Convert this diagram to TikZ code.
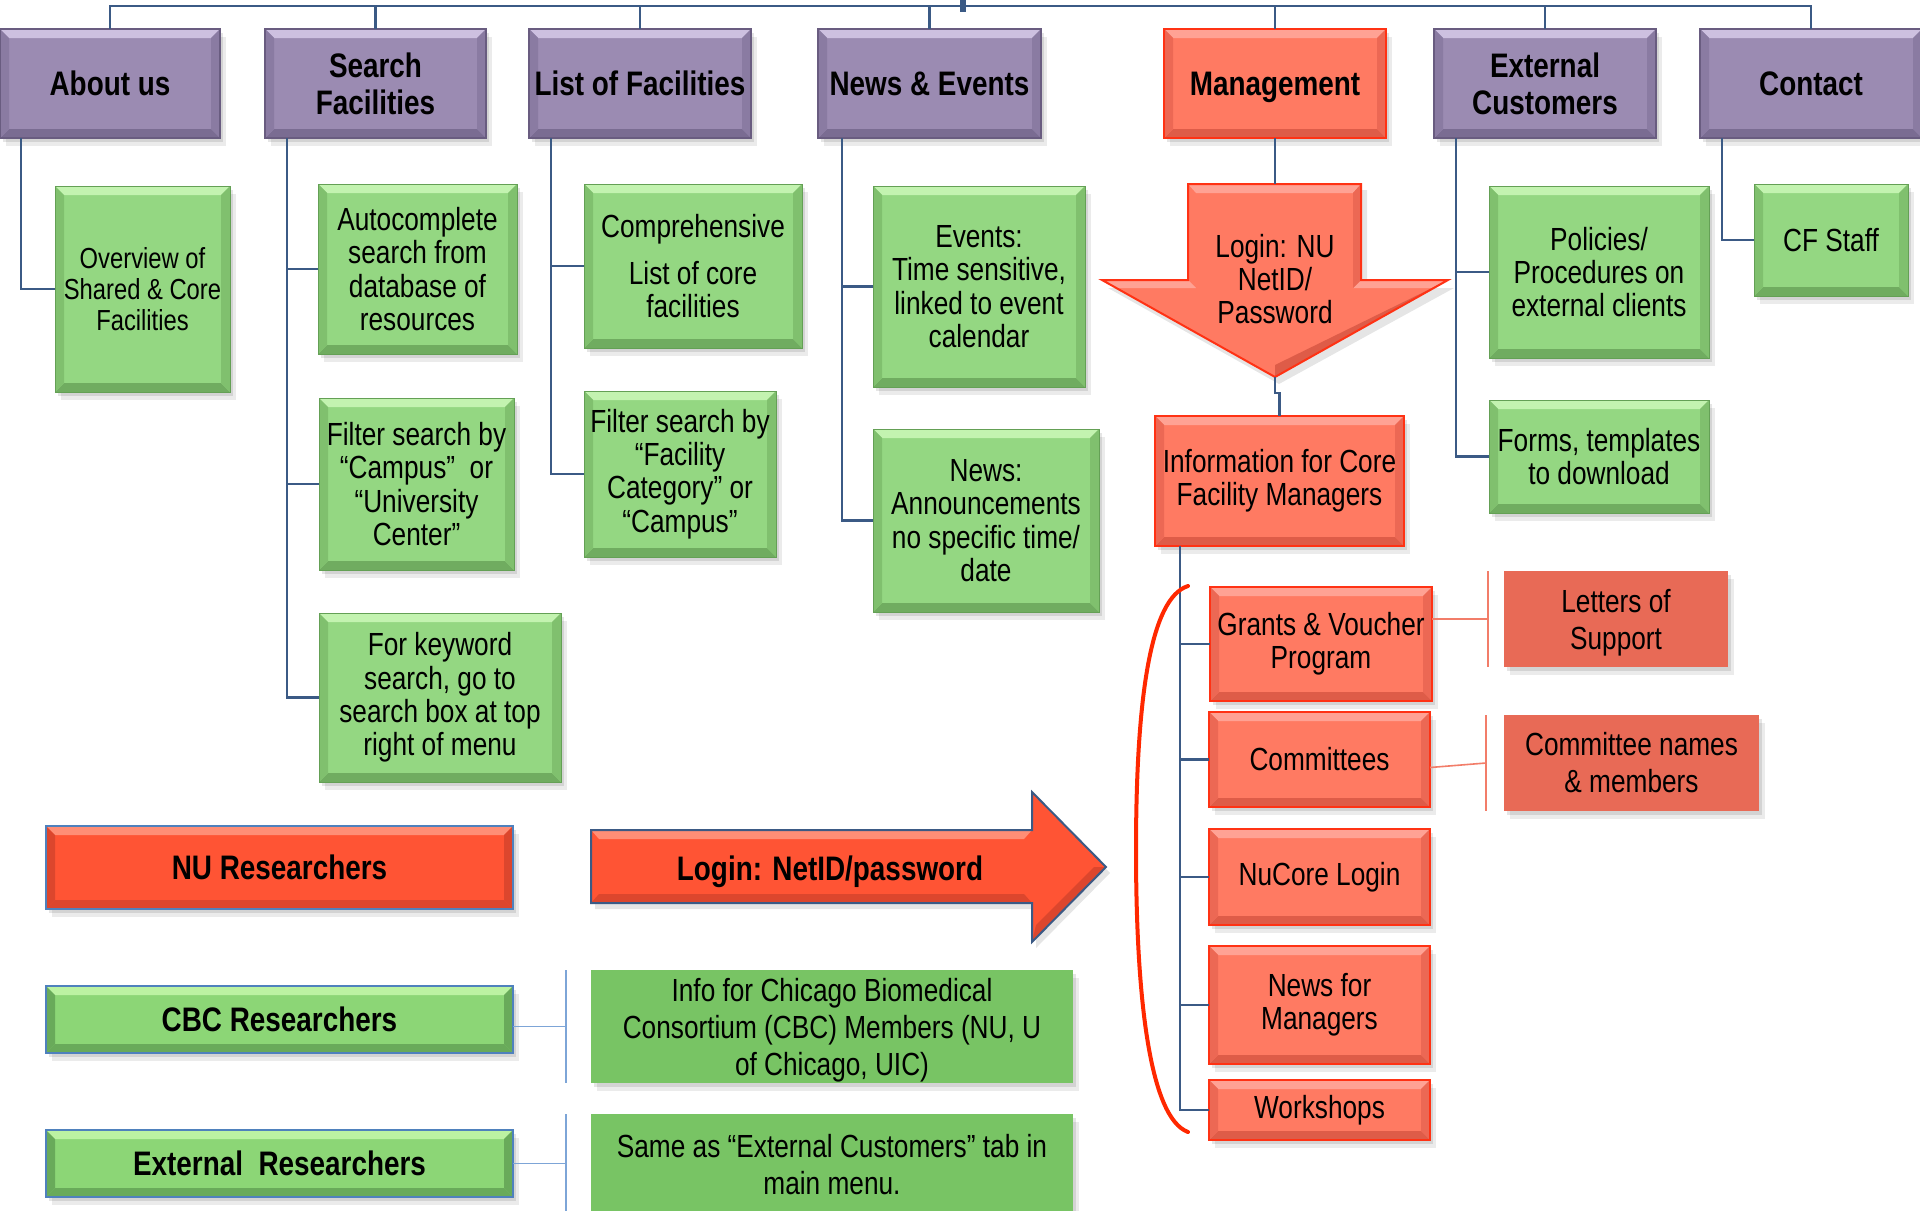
\documentclass[tikz,border=0pt]{standalone}
\usepackage{fontspec}
\setmainfont{Liberation Sans}[FakeStretch=0.82]
\usetikzlibrary{backgrounds}
\definecolor{purp}{RGB}{155,139,178}
\definecolor{purpT}{RGB}{205,192,224}
\definecolor{purpB}{RGB}{122,108,146}
\definecolor{purpS}{RGB}{138,123,162}
\definecolor{purpD}{RGB}{105,92,128}
\definecolor{grn}{RGB}{148,215,130}
\definecolor{grnT}{RGB}{195,243,176}
\definecolor{grnB}{RGB}{112,172,96}
\definecolor{grnS}{RGB}{128,192,110}
\definecolor{grnD}{RGB}{100,160,85}
\definecolor{sal}{RGB}{255,122,98}
\definecolor{salT}{RGB}{255,162,148}
\definecolor{salB}{RGB}{222,92,72}
\definecolor{salS}{RGB}{236,104,84}
\definecolor{salD}{RGB}{255,50,20}
\definecolor{nured}{RGB}{255,84,52}
\definecolor{nuredT}{RGB}{255,142,118}
\definecolor{nuredB}{RGB}{220,70,45}
\definecolor{flatsal}{RGB}{232,106,86}
\definecolor{flatgrn}{RGB}{120,196,100}
\definecolor{cbcgrn}{RGB}{140,214,118}
\definecolor{cbcT}{RGB}{188,242,162}
\definecolor{cbcB}{RGB}{105,170,90}
\definecolor{conn}{RGB}{59,90,133}
\definecolor{bluebord}{RGB}{79,129,189}
\definecolor{lblue}{RGB}{125,165,215}
\definecolor{lred}{RGB}{242,125,105}
\definecolor{curvered}{RGB}{255,40,0}
\tikzset{
  bevel/.style n args={3}{path picture={
    \fill[#1] (path picture bounding box.north west) -- (path picture bounding box.north east)
      -- ([shift={(-4.5pt,-4.5pt)}]path picture bounding box.north east)
      -- ([shift={(4.5pt,-4.5pt)}]path picture bounding box.north west) -- cycle;
    \fill[#2] (path picture bounding box.south west) -- (path picture bounding box.south east)
      -- ([shift={(-4.5pt,4.5pt)}]path picture bounding box.south east)
      -- ([shift={(4.5pt,4.5pt)}]path picture bounding box.south west) -- cycle;
    \fill[#3] (path picture bounding box.north west) -- ([shift={(4.5pt,-4.5pt)}]path picture bounding box.north west)
      -- ([shift={(4.5pt,4.5pt)}]path picture bounding box.south west) -- (path picture bounding box.south west) -- cycle;
    \fill[#3] (path picture bounding box.north east) -- ([shift={(-4.5pt,-4.5pt)}]path picture bounding box.north east)
      -- ([shift={(-4.5pt,4.5pt)}]path picture bounding box.south east) -- (path picture bounding box.south east) -- cycle;
  }},
  sz/.style 2 args={minimum width=#1*0.5pt, minimum height=#2*0.5pt},
  base/.style={rectangle, inner sep=2pt, outer sep=0pt, align=center, text=black,
    font=\fontsize{16}{16.7}\selectfont},
  hdrfont/.style={font=\bfseries\fontsize{17}{18.5}\selectfont},
  hdr/.style={base, hdrfont, fill=purp, draw=purpD, line width=0.6pt, bevel={purpT}{purpB}{purpS}},
  grnbox/.style={base, fill=grn, draw=grnD, line width=0.5pt, bevel={grnT}{grnB}{grnS}},
  salbox/.style={base, fill=sal, draw=salD, line width=0.8pt, bevel={salT}{salB}{salS}},
  flatbox/.style={base, fill=#1, draw=none, font=\fontsize{16}{18.5}\selectfont},
  resbox/.style={base, hdrfont, draw=bluebord, line width=1.2pt},
  connl/.style={draw=conn, line width=1.1pt},
  lredline/.style={draw=lred, line width=0.8pt},
  lblueline/.style={draw=lblue, line width=0.8pt},
}
\begin{document}
\begin{tikzpicture}[x=0.5pt,y=-0.5pt]
\useasboundingbox (0,0) rectangle (1920,1210);

% header row
\node[hdr, sz={220}{109}] (about) at (110,83.5) {About us};
\node[hdr, sz={221}{109}] (search) at (375.5,83.5) {Search\\Facilities};
\node[hdr, sz={222}{109}] (list) at (640,83.5) {List of Facilities};
\node[hdr, sz={223}{109}] (news) at (929.5,83.5) {News \& Events};
\node[salbox, hdrfont, text depth=0pt, sz={222}{109}] (mgmt) at (1275,83.5) {Management};
\node[hdr, sz={222}{109}] (ext) at (1545,83.5) {External\\Customers};
\node[hdr, sz={222}{109}] (contact) at (1811,83.5) {Contact};

% green children
\node[grnbox, sz={175}{206}, font=\fontsize{14.5}{15.5}\selectfont] (overview) at (142.5,289) {Overview of\\Shared \& Core\\Facilities};
\node[grnbox, sz={199}{170}] (auto) at (417.5,269) {Autocomplete\\search from\\database of\\resources};
\node[grnbox, sz={195}{172}] (filtc) at (416.5,484) {Filter search by\\“Campus”\ \ or\\“University\\Center”};
\node[grnbox, sz={242}{169}] (kw) at (440,697.5) {For keyword\\search, go to\\search box at top\\right of menu};
\node[grnbox, sz={218}{164}] (compr) at (693,266) {Comprehensive\\[7pt]List of core\\facilities};
\node[grnbox, sz={192}{166}] (filtf) at (680,474) {Filter search by\\“Facility\\Category” or\\“Campus”};
\node[grnbox, sz={212}{201}] (events) at (979,286.5) {Events:\\Time sensitive,\\linked to event\\calendar};
\node[grnbox, sz={226}{183}] (newsb) at (986,520.5) {News:\\Announcements\\no specific time/\\date};
\node[grnbox, sz={220}{172}] (pol) at (1599,272) {Policies/\\Procedures on\\external clients};
\node[grnbox, sz={220}{113}] (forms) at (1599,456.5) {Forms, templates\\to download};
\node[grnbox, sz={154}{112}] (cf) at (1831,240) {CF Staff};

% management down arrow
\coordinate (dtop) at (1275,184);
\coordinate (dtip) at (1275,377);
\fill[sal] (1188,184) -- (1361,184) -- (1361,280) -- (1448,280) -- (dtip) -- (1102,280) -- (1188,280) -- cycle;
\fill[salT] (1188,184) -- (1361,184) -- (1353,193) -- (1196,193) -- cycle;
\fill[salT] (1102,280) -- (1188,280) -- (1196,288) -- (1118,288) -- cycle;
\fill[salT] (1361,280) -- (1448,280) -- (1432,288) -- (1353,288) -- cycle;
\fill[salB] (1448,280) -- (dtip) -- (1275,365) -- (1432,288) -- cycle;
\fill[salS] (1361,184) -- (1361,280) -- (1353,288) -- (1353,193) -- cycle;
\draw[salD, line width=1pt, line join=miter] (1188,184) -- (1361,184) -- (1361,280) -- (1448,280) -- (dtip) -- (1102,280) -- (1188,280) -- cycle;
\node[font=\fontsize{16}{16.7}\selectfont, align=center] (loginnu) at (1275,279) {Login: NU\\NetID/\\Password};

% management children
\node[salbox, sz={249}{130}] (info) at (1279.5,481) {Information for Core\\Facility Managers};
\node[salbox, sz={222}{114}] (grants) at (1321,644) {Grants \& Voucher\\Program};
\node[salbox, sz={221}{95}] (committees) at (1319.5,759.5) {Committees};
\node[salbox, sz={221}{96}] (nucore) at (1319.5,877) {NuCore Login};
\node[salbox, sz={221}{118}] (newsmgr) at (1319.5,1005) {News for\\Managers};
\node[salbox, sz={221}{60}] (workshops) at (1319.5,1110) {Workshops};
\node[flatbox=flatsal, sz={224}{96}, text depth=0pt] (letters) at (1616,619) {Letters of\\Support};
\node[flatbox=flatsal, sz={255}{96}] (cnames) at (1631.5,763) {Committee names\\\& members};

% bottom section
\node[resbox, fill=nured, bevel={nuredT}{nuredB}{nuredB}, sz={467}{83}] (nu) at (279.5,867.5) {NU Researchers};
\node[resbox, fill=cbcgrn, bevel={cbcT}{cbcB}{cbcB}, sz={467}{67}] (cbc) at (279.5,1019.5) {CBC Researchers};
\node[resbox, fill=cbcgrn, bevel={cbcT}{cbcB}{cbcB}, sz={467}{67}] (extr) at (279.5,1163.5) {External\ \ Researchers};
\node[flatbox=flatgrn, sz={482}{113}, text depth=0pt] (chi) at (832,1026.5) {Info for Chicago Biomedical\\Consortium (CBC) Members (NU, U\\of Chicago, UIC)};
\node[flatbox=flatgrn, sz={482}{102}] (same) at (832,1165) {Same as “External Customers” tab in\\main menu.};

% right arrow
\fill[nured] (591,830) -- (1032,830) -- (1032,792) -- (1106,867) -- (1032,942) -- (1032,903) -- (591,903) -- cycle;
\fill[nuredT] (591,830) -- (1032,830) -- (1024,839) -- (599,839) -- cycle;
\fill[nuredB] (591,903) -- (1032,903) -- (1024,894) -- (599,894) -- cycle;
\fill[nuredB] (1106,867) -- (1032,942) -- (1036,925) -- (1094,867) -- cycle;
\draw[conn, line width=1pt, line join=miter] (591,830) -- (1032,830) -- (1032,792) -- (1106,867) -- (1032,942) -- (1032,903) -- (591,903) -- cycle;
\node[hdrfont, text depth=0pt] (loginr) at (830,868) {Login: NetID/password};

% top connectors
\coordinate (root) at (963,0);
\coordinate (bar) at (963,6);
\draw[connl] (about.north) |- (bar);
\draw[connl] (contact.north) |- (bar);
\foreach \n in {search,list,news,mgmt,ext} \draw[connl] (\n.north) -- (\n.north |- bar);
\draw[conn, line width=2.6pt] (root) -- ([yshift=-3pt]bar);

% branch connectors
\draw[connl] ([xshift=10.5pt]about.south west) |- (overview.west);
\foreach \c in {auto,filtc,kw} \draw[connl] ([xshift=11pt]search.south west) |- (\c.west);
\foreach \c in {compr,filtf} \draw[connl] ([xshift=11pt]list.south west) |- (\c.west);
\foreach \c in {events,newsb} \draw[connl] ([xshift=12pt]news.south west) |- (\c.west);
\foreach \c in {pol,forms} \draw[connl] ([xshift=11pt]ext.south west) |- (\c.west);
\draw[connl] ([xshift=11pt]contact.south west) |- (cf.west);
\draw[connl] (mgmt.south) -- (dtop);
\draw[connl] (dtip) -- ++(0,16) -| (info.north);
\foreach \c in {grants,committees,nucore,newsmgr,workshops} \draw[connl] ([xshift=12.5pt]info.south west) |- (\c.west);

% bracket connectors
\draw[lredline] (grants.east |- letters.west) -- ([xshift=-8pt]letters.west);
\draw[lredline] ([xshift=-8pt]letters.north west) -- ([xshift=-8pt]letters.south west);
\draw[lredline] ([yshift=-4pt]committees.east) -- ([xshift=-9pt]cnames.west);
\draw[lredline] ([xshift=-9pt]cnames.north west) -- ([xshift=-9pt]cnames.south west);
\draw[lblueline] (cbc.east |- chi.west) -- ([xshift=-12.5pt]chi.west);
\draw[lblueline] ([xshift=-12.5pt]chi.north west) -- ([xshift=-12.5pt]chi.south west);
\draw[lblueline] (extr.east) -- ([xshift=-12.5pt]same.west |- extr.east);
\draw[lblueline] ([xshift=-12.5pt]same.north west) -- ([xshift=-12.5pt]same.south west);

% red curved bracket
\draw[curvered, line width=2pt, line cap=round] (1188,586) .. controls (1150,598) and (1136,700) .. (1136,850) .. controls (1136,1000) and (1150,1118) .. (1188,1132);

% background and soft shadows
\begin{pgfonlayer}{background}
\fill[white] (0,0) rectangle (1920,1210);
\foreach \n in {about,search,list,news,mgmt,ext,contact,overview,auto,filtc,kw,compr,filtf,events,newsb,pol,forms,cf,info,grants,committees,nucore,newsmgr,workshops,letters,cnames,nu,cbc,extr,chi,same} {
  \fill[black, opacity=0.10] ([shift={(1.5pt,-2pt)}]\n.north west) rectangle ([shift={(1.5pt,-2pt)}]\n.south east);
  \fill[black, opacity=0.08] ([shift={(3pt,-4pt)}]\n.north west) rectangle ([shift={(3pt,-4pt)}]\n.south east);
}
\fill[black, opacity=0.10] (1108,288) -- (1192,288) -- (1192,190) -- (1367,190) -- (1367,288) -- (1454,288) -- (1279,384) -- cycle;
\fill[black, opacity=0.10] (595,836) -- (1036,836) -- (1036,798) -- (1110,873) -- (1036,948) -- (1036,909) -- (595,909) -- cycle;
\end{pgfonlayer}
\end{tikzpicture}
\end{document}
